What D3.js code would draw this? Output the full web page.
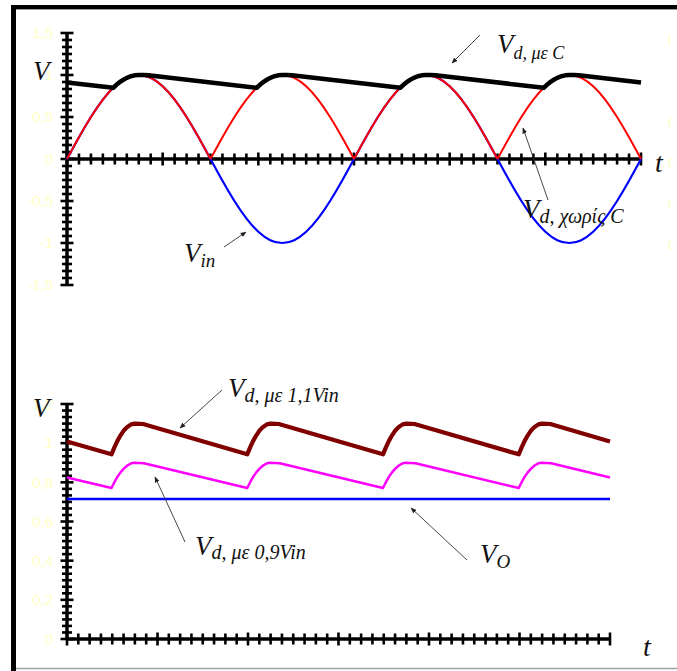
<!DOCTYPE html>
<html><head><meta charset="utf-8">
<script src="https://cdn.jsdelivr.net/npm/d3@7"></script>
<style>
html,body{margin:0;padding:0;background:#fff;overflow:hidden}
svg{display:block}
</style></head>
<body>
<svg id="c" width="677" height="671"></svg>
<script>
// ---------- DATA ----------
// top chart: phase in degrees (two full periods of the input)
const phaseTop = [0,15,30,45,60,75,90,105,120,135,150,165,180,195,210,225,240,255,270,285,300,315,330,345,360,
  375,390,405,420,435,450,465,480,495,510,525,540,555,570,585,600,615,630,645,660,675,690,705,720];
const vIn = [0,0.259,0.5,0.707,0.866,0.966,1,0.966,0.866,0.707,0.5,0.259,0,-0.259,-0.5,-0.707,-0.866,-0.966,-1,-0.966,-0.866,-0.707,-0.5,-0.259,0,
  0.259,0.5,0.707,0.866,0.966,1,0.966,0.866,0.707,0.5,0.259,0,-0.259,-0.5,-0.707,-0.866,-0.966,-1,-0.966,-0.866,-0.707,-0.5,-0.259,0];
const vdNoC = [0,0.259,0.5,0.707,0.866,0.966,1,0.966,0.866,0.707,0.5,0.259,0,0.259,0.5,0.707,0.866,0.966,1,0.966,0.866,0.707,0.5,0.259,0,
  0.259,0.5,0.707,0.866,0.966,1,0.966,0.866,0.707,0.5,0.259,0,0.259,0.5,0.707,0.866,0.966,1,0.966,0.866,0.707,0.5,0.259,0];
const phaseVdC = [0,58,62,66,70,75,80,85,90,96,102,238,242,246,250,255,260,265,270,276,282,418,422,426,430,435,440,445,450,456,462,
  598,602,606,610,615,620,625,630,636,642,720];
const vdC = [0.912,0.848,0.883,0.914,0.940,0.966,0.985,0.996,1.0,0.999,0.997,0.848,0.883,0.914,0.940,0.966,0.985,0.996,1.0,0.999,0.997,
  0.848,0.883,0.914,0.940,0.966,0.985,0.996,1.0,0.999,0.997,0.848,0.883,0.914,0.940,0.966,0.985,0.996,1.0,0.999,0.997,0.911];

// bottom chart
const phaseBot = [0,59,63,67,71,75,80,85,90,96,102,239,243,247,251,255,260,265,270,276,282,419,423,427,431,435,440,445,450,456,462,
  599,603,607,611,615,620,625,630,636,642,720];
const vd11 = [1.009,0.943,0.980,1.013,1.040,1.063,1.083,1.096,1.1,1.099,1.097,0.943,0.980,1.013,1.040,1.063,1.083,1.096,1.1,1.099,1.097,
  0.943,0.980,1.013,1.040,1.063,1.083,1.096,1.1,1.099,1.097,0.943,0.980,1.013,1.040,1.063,1.083,1.096,1.1,1.099,1.097,1.009];
const vd09 = [0.825,0.771,0.802,0.829,0.851,0.869,0.886,0.897,0.9,0.899,0.897,0.771,0.802,0.829,0.851,0.869,0.886,0.897,0.9,0.899,0.897,
  0.771,0.802,0.829,0.851,0.869,0.886,0.897,0.9,0.899,0.897,0.771,0.802,0.829,0.851,0.869,0.886,0.897,0.9,0.899,0.897,0.825];
const phaseVo = [0,720];
const vO = [0.715,0.715];

// tick labels
const topTickVals = [-1.5,-1,-0.5,0,0.5,1,1.5];
const topTickLabels = ["-1,5","-1","-0,5","0","0,5","1","1,5"];
const botTickVals = [0,0.2,0.4,0.6,0.8,1,1.2];
const botTickLabels = ["0","0,2","0,4","0,6","0,8","1","1,2"];
const rightFaintLabels = ["0","0","0","0","0"];

// ---------- DRAW ----------
const svg = d3.select("#c");
const serif = "'Liberation Serif','Times New Roman',serif";
const sans = "'Liberation Sans',Arial,sans-serif";
const pale = "#ffffc8";

// frame
svg.append("rect").attr("x",11).attr("y",5).attr("width",5).attr("height",666).attr("fill","#000");
svg.append("rect").attr("x",11).attr("y",5).attr("width",666).attr("height",4).attr("fill","#000");
svg.append("line").attr("x1",16).attr("x2",677).attr("y1",9.5).attr("y2",9.5).attr("stroke","#9a9a9a").attr("stroke-width",1);
svg.append("line").attr("x1",16).attr("x2",677).attr("y1",668.5).attr("y2",668.5).attr("stroke","#a0a0a0").attr("stroke-width",1.5);

const defs = svg.append("defs");
defs.append("marker").attr("id","ah").attr("viewBox","0 0 10 10").attr("refX",9).attr("refY",5)
  .attr("markerWidth",6).attr("markerHeight",6).attr("orient","auto").attr("markerUnits","userSpaceOnUse")
  .append("path").attr("d","M0,1 L10,5 L0,9 Z").attr("fill","#222");
defs.append("clipPath").attr("id","rclip").append("rect").attr("x",600).attr("y",0).attr("width",71).attr("height",300);

function drawAxes(g, x, y, nx, ny, majorEveryX, yVals, yLabels) {
  const [x0,x1] = x.range();
  const [yb,yt] = y.range();
  const y0 = y(Math.max(y.domain()[0],0));
  const [d0,d1] = y.domain();
  const yt_ = d3.range(ny+1).map(i => d0 + (d1-d0)*i/ny);
  const majorStepY = (yVals[1]-yVals[0]);
  const isMaj = d => Math.abs(Math.round(d/majorStepY)*majorStepY - d) < 1e-6;
  g.selectAll(".yt").data(yt_).join("line")
    .attr("x1", d => x0 - (isMaj(d)?6.5:5))
    .attr("x2", d => x0 + (isMaj(d)?6.5:5))
    .attr("y1", d => y(d)).attr("y2", d => y(d)).attr("stroke","#000").attr("stroke-width",2.6);
  const [e0,e1] = x.domain();
  const xt = d3.range(nx+1).map(i => e0 + (e1-e0)*i/nx);
  g.selectAll(".xt").data(xt).join("line")
    .attr("x1", d => x(d)).attr("x2", d => x(d))
    .attr("y1", (d,i) => y0 - (i%majorEveryX===0?6.5:5.5)).attr("y2", (d,i) => y0 + (i%majorEveryX===0?6.5:5.5))
    .attr("stroke","#000").attr("stroke-width",2.6);
  g.append("line").attr("x1",x0).attr("x2",x0).attr("y1",yt).attr("y2",yb).attr("stroke","#000").attr("stroke-width",3.5);
  g.append("line").attr("x1",x0).attr("x2",x1).attr("y1",y0).attr("y2",y0).attr("stroke","#000").attr("stroke-width",3.5);
  const ax = g.append("g").attr("transform",`translate(${x0},0)`)
    .call(d3.axisLeft(y).tickValues(yVals).tickFormat((d,i)=>yLabels[i]).tickSize(0).tickPadding(14));
  ax.select(".domain").remove();
  ax.selectAll("text").attr("fill",pale).attr("font-family",sans).attr("font-size",15);
}

function label(x, y, main, sub, subSize, dy, mainSize) {
  const t = svg.append("text").attr("x",x).attr("y",y).attr("font-family",serif).attr("font-style","italic")
    .attr("fill","#111").attr("font-size",mainSize||27).text(main);
  if (sub) t.append("tspan").attr("font-size",subSize).attr("dy",dy).text(sub);
}
function arrow(x1,y1,x2,y2) {
  svg.append("line").attr("x1",x1).attr("y1",y1).attr("x2",x2).attr("y2",y2)
    .attr("stroke","#333").attr("stroke-width",0.9).attr("marker-end","url(#ah)");
}

// ===== TOP CHART =====
const xT = d3.scaleLinear().domain([0,720]).range([67,641]);
const yT = d3.scaleLinear().domain([-1.5,1.5]).range([285,33]);
const gT = svg.append("g");

// faint right labels (clipped at the chart object's edge)
const yR = d3.scaleLinear().domain([0,5]).range([40,245]);
svg.append("g").attr("clip-path","url(#rclip)").selectAll("text").data(rightFaintLabels).join("text")
  .attr("x",668).attr("y",(d,i)=> yR([0,2,3,4,5][i]) + 5)
  .attr("font-family",sans).attr("font-size",15).attr("fill",pale).text(d=>d);

drawAxes(gT, xT, yT, 48, 36, 8, topTickVals, topTickLabels);

const lineNat = d3.line().x(d=>xT(d[0])).y(d=>yT(d[1])).curve(d3.curveNatural);
gT.append("path").attr("d", lineNat(phaseTop.map((p,i)=>[p,vIn[i]])))
  .attr("fill","none").attr("stroke","#0000ff").attr("stroke-width",2.2);
for (let k=0;k<4;k++){
  const seg = phaseTop.slice(k*12,k*12+13).map((p,j)=>[p,vdNoC[k*12+j]]);
  gT.append("path").attr("d", lineNat(seg)).attr("fill","none").attr("stroke","#ff0000").attr("stroke-width",2);
}
const lineLinT = d3.line().x(d=>xT(d[0])).y(d=>yT(d[1]));
gT.append("path").attr("d", lineLinT(phaseVdC.map((p,i)=>[p,vdC[i]])))
  .attr("fill","none").attr("stroke","#000").attr("stroke-width",4.5).attr("stroke-linejoin","round");

// ===== BOTTOM CHART =====
const xB = d3.scaleLinear().domain([0,720]).range([67,610]);
const yB = d3.scaleLinear().domain([0,1.2]).range([639,404]);
const gB = svg.append("g");
drawAxes(gB, xB, yB, 48, 36, 8, botTickVals, botTickLabels);
const lineB = d3.line().x(d=>xB(d[0])).y(d=>yB(d[1]));
gB.append("path").attr("d", lineB(phaseVo.map((p,i)=>[p,vO[i]])))
  .attr("fill","none").attr("stroke","#0000ff").attr("stroke-width",2.3);
gB.append("path").attr("d", lineB(phaseBot.map((p,i)=>[p,vd09[i]])))
  .attr("fill","none").attr("stroke","#ff00ff").attr("stroke-width",2.5).attr("stroke-linejoin","round");
gB.append("path").attr("d", lineB(phaseBot.map((p,i)=>[p,vd11[i]])))
  .attr("fill","none").attr("stroke","#800000").attr("stroke-width",4.2).attr("stroke-linejoin","round");

// ===== TEXT LABELS & ARROWS =====
label(33, 80, "V");
label(655, 172, "t", null, 0, 0, 28);
label(497, 53, "V", "d, με C", 18, 6);
arrow(480,35,452,63);
label(523, 218, "V", "d, χωρίς C", 20, 5);
arrow(548,200,523,128);
label(184, 262, "V", "in", 19, 5);
arrow(224,247,246,232);

label(33, 417, "V");
label(643, 656, "t", null, 0, 0, 28);
label(228, 397, "V", "d, με 1,1Vin", 20, 5);
arrow(222,390,180,428);
label(195, 555, "V", "d, με 0,9Vin", 20, 4);
arrow(185,542,155,477);
label(480, 563, "V", "O", 19, 5);
arrow(467,560,411,508);
</script>
</body></html>
